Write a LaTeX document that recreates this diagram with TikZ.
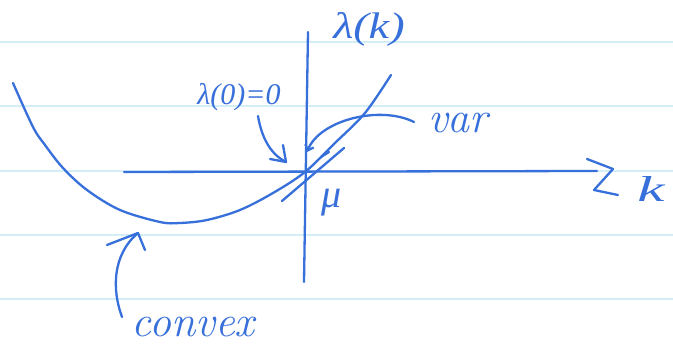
\documentclass[tikz,border=0pt]{standalone}
\usepackage{fontspec}
\newfontfamily\labfont{Liberation Serif}
\usepackage{graphicx}
\usetikzlibrary{arrows.meta}
\definecolor{ink}{RGB}{55,112,218}
\definecolor{ruled}{RGB}{212,238,248}
\begin{document}
\begin{tikzpicture}[x=1pt,y=-1pt,
  inkline/.style={draw=ink, line width=2.3pt, line cap=round, line join=round},
  ruledline/.style={draw=ruled, line width=2.5pt},
  lab/.style={text=ink, inner sep=0pt}]
\fill[white] (0,0) rectangle (673,358);
\useasboundingbox (0,0) rectangle (673,358);
% ruled paper
\foreach \y in {42,106,171,235,299} \draw[ruledline] (0,\y) -- (673,\y);
% axes
\coordinate (ytop) at (308,32);
\coordinate (ybot) at (304,282);
\draw[inkline] (ybot) -- (ytop);
\coordinate (xl) at (124,172);
\coordinate (xr) at (597,171);
\draw[inkline] (xl) -- (xr);
\draw[inkline] (587,159) -- (613,169) -- (594,190) -- (618,195);
% convex curve
\draw[inkline] plot[smooth, tension=0.55] coordinates {(13,83) (33,127) (45,145) (63,168) (87,190) (120,210) (160,222) (180,223) (207,220) (240,210) (273,193) (305,172) (335,143) (365,113) (391,75)};
% tangent line
\coordinate (ta) at (282,201);
\coordinate (tb) at (344,148);
\draw[inkline] (ta) -- (tb);
\coordinate (da) at (321,157);
\coordinate (db) at (329,152);
\draw[inkline] (da) -- (db);
% labels
\node[lab, font=\labfont\itshape\fontsize{37}{40}\selectfont] (lk) at (369,29) {\scalebox{1.25}[1]{λ(k)}};
\node[lab, font=\labfont\itshape\fontsize{30}{34}\selectfont] (l0) at (239,97) {λ(0)=0};
\node[lab, font=\fontsize{44}{50}\selectfont\itshape] (var) at (458,123) {var};
\node[lab, font=\labfont\itshape\fontsize{40}{44}\selectfont] (mu) at (332,203) {μ};
\node[lab, font=\labfont\itshape\fontsize{36}{40}\selectfont] (kk) at (651,189) {\scalebox{1.7}[1]{k}};
\node[lab, font=\fontsize{44}{50}\selectfont\itshape] (cvx) at (193,327) {convex};
% arrow lambda(0)=0
\coordinate (a0s) at (258,116);
\coordinate (a0t) at (286,162);
\draw[inkline] (a0s) .. controls (262,140) and (272,155) .. (a0t);
\draw[inkline] (283,145) -- (a0t) -- (270,159);
% arrow var
\coordinate (avs) at (414,122);
\coordinate (avt) at (307,152);
\draw[inkline, -{Straight Barb[length=5pt,width=9pt]}] (avs) .. controls (380,105) and (320,120) .. (avt);
% arrow convex
\coordinate (acs) at (122,317);
\coordinate (act) at (138,233);
\draw[inkline] (acs) .. controls (112,290) and (112,255) .. (act);
\draw[inkline] (107,245) -- (act) -- (145,250);
\end{tikzpicture}
\end{document}
